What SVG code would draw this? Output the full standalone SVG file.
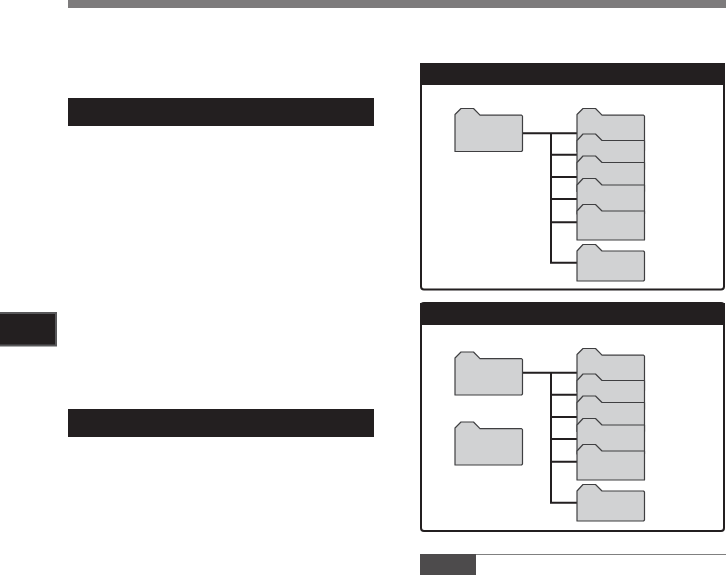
<svg xmlns="http://www.w3.org/2000/svg" width="726" height="575" viewBox="0 0 726 575">
<defs>
<style>
.bar{fill:#231f20}
.panel{fill:#fff;stroke:#231f20;stroke-width:2}
.folder{fill:#d1d2d3;stroke:#3f3f41;stroke-width:1.2;stroke-linejoin:round}
.conn{fill:none;stroke:#231f20;stroke-width:2}
</style>
<path id="f36" d="M0.500 44V7L6.500 1H19L25.500 7.700H67L68 8.700V43L67 44Z"/>
<path id="f30" d="M0.500 37V7L6.500 0.500H19L25.500 7H67L68 8V36L67 37Z"/>
<path id="f-mid" d="M0.500 36V7L6.500 0.500H19L25.500 7H68V36Z"/>
</defs>
<rect id="top-bar" x="68" y="0" width="658" height="8" fill="#7d7b7c"/>
<rect id="heading-1" class="bar" x="68" y="98" width="306" height="28"/>
<rect id="heading-2" class="bar" x="68" y="409" width="306" height="28"/>
<rect id="side-tab" x="-2" y="313" width="58" height="32.500" fill="#231f20" stroke="#58585a" stroke-width="2"/>

<g id="panel-1">
<rect class="panel" x="421" y="64" width="303" height="225.500" rx="3"/>
<rect class="bar" x="420" y="63" width="305" height="22"/>
</g>
<g id="panel-2">
<rect class="panel" x="421" y="303" width="303" height="228" rx="3"/>
<rect class="bar" x="420" y="303" width="305" height="22"/>
</g>

<g id="connectors">
<path class="conn" d="M522 133.300H577M551 133.300V262.700H577M551 154.700H577M551 177H577M551 199H577M551 222.300H577"/>
<path class="conn" d="M521 372.700H577M551 372.700V502.700H577M551 394.700H577M551 417H577M551 439H577M551 461.700H577"/>
</g>

<g id="folder-a-root"><use href="#f36" class="folder" transform="translate(454.500 107.500)"/></g>
<g id="folder-a1"><use href="#f36" class="folder" transform="translate(576.500 107.500)"/></g>
<g id="folder-a2"><use href="#f-mid" class="folder" transform="translate(576.500 133.500)"/></g>
<g id="folder-a3"><use href="#f-mid" class="folder" transform="translate(576.500 155.500)"/></g>
<g id="folder-a4"><use href="#f-mid" class="folder" transform="translate(576.500 178)"/></g>
<g id="folder-a5"><use href="#f-mid" class="folder" transform="translate(576.500 204)"/></g>
<g id="folder-a6"><use href="#f30" class="folder" transform="translate(576.500 244)"/></g>

<g id="folder-b-root"><use href="#f36" class="folder" transform="translate(454.500 351)"/></g>
<g id="folder-b-second"><use href="#f36" class="folder" transform="translate(454.500 421)"/></g>
<g id="folder-b1"><use href="#f36" class="folder" transform="translate(576.500 347.500)"/></g>
<g id="folder-b2"><use href="#f-mid" class="folder" transform="translate(576.500 373.500)"/></g>
<g id="folder-b3"><use href="#f-mid" class="folder" transform="translate(576.500 395.500)"/></g>
<g id="folder-b4"><use href="#f-mid" class="folder" transform="translate(576.500 418)"/></g>
<g id="folder-b5"><use href="#f-mid" class="folder" transform="translate(576.500 444)"/></g>
<g id="folder-b6"><use href="#f30" class="folder" transform="translate(576.500 484)"/></g>

<g id="note">
<rect x="420" y="554" width="306" height="1" fill="#808080"/>
<rect x="420" y="554" width="56" height="21" fill="#4d4b4c"/>
</g>
</svg>
